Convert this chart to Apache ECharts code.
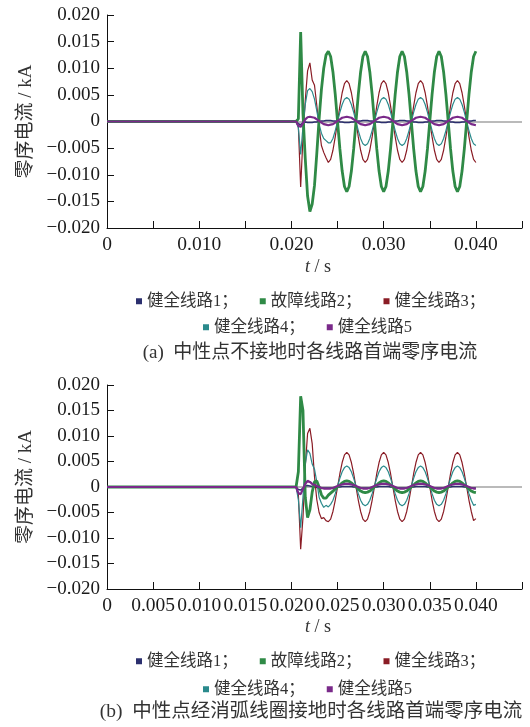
<!DOCTYPE html>
<html>
<head>
<meta charset="utf-8">
<script src="https://cdn.jsdelivr.net/npm/echarts@6/dist/echarts.min.js"></script>
<style>
html,body{margin:0;padding:0;background:#fff;}
#c{width:530px;height:727px;}
</style>
</head>
<body>
<div id="c"></div>
<script>
// time samples (s)
var t = [0, 0.0205, 0.02075, 0.021, 0.02125, 0.0215, 0.02175, 0.022, 0.02225, 0.0225, 0.02275, 0.023, 0.02325, 0.0235, 0.02375,
  0.024, 0.02425, 0.0245, 0.02475, 0.025, 0.02525, 0.0255, 0.02575, 0.026, 0.02625, 0.0265, 0.02675, 0.027, 0.02725, 0.0275, 0.02775,
  0.028, 0.02825, 0.0285, 0.02875, 0.029, 0.02925, 0.0295, 0.02975, 0.030, 0.03025, 0.0305, 0.03075, 0.031, 0.03125, 0.0315, 0.03175,
  0.032, 0.03225, 0.0325, 0.03275, 0.033, 0.03325, 0.0335, 0.03375, 0.034, 0.03425, 0.0345, 0.03475, 0.035, 0.03525, 0.0355, 0.03575,
  0.036, 0.03625, 0.0365, 0.03675, 0.037, 0.03725, 0.0375, 0.03775, 0.038, 0.03825, 0.0385, 0.03875, 0.039, 0.03925, 0.0395, 0.03975,
  0.040];

var seriesNames = ['健全线路1', '故障线路2', '健全线路3', '健全线路4', '健全线路5'];

// (a) 中性点不接地
var line1A = [0, 0, -0.0004, -0.0006, -0.0002, -0.0001, -0.0002, -0.0002, -0.0002, -0.0001, -0.0001, 0, 0.0001, 0.0001, 0.0002,
  0.0002, 0.0002, 0.0001, 0.0001, 0, -0.0001, -0.0001, -0.0002, -0.0002, -0.0002, -0.0001, -0.0001, 0, 0.0001, 0.0001, 0.0002,
  0.0002, 0.0002, 0.0001, 0.0001, 0, -0.0001, -0.0001, -0.0002, -0.0002, -0.0002, -0.0001, -0.0001, 0, 0.0001, 0.0001, 0.0002,
  0.0002, 0.0002, 0.0001, 0.0001, 0, -0.0001, -0.0001, -0.0002, -0.0002, -0.0002, -0.0001, -0.0001, 0, 0.0001, 0.0001, 0.0002,
  0.0002, 0.0002, 0.0001, 0.0001, 0, -0.0001, -0.0001, -0.0002, -0.0002, -0.0002, -0.0001, -0.0001, 0, 0.0001, 0.0001, 0.0002,
  0.0002];
var line2A = [0, 0, 0.0005, 0.0168, 0.0015, -0.0070, -0.0140, -0.0169, -0.0155, -0.0120, -0.0060, 0.0005, 0.0060, 0.0100, 0.0125,
  0.0132, 0.0122, 0.0093, 0.0051, 0, -0.0051, -0.0093, -0.0122, -0.0132, -0.0122, -0.0093, -0.0051, 0, 0.0051, 0.0093, 0.0122,
  0.0132, 0.0122, 0.0093, 0.0051, 0, -0.0051, -0.0093, -0.0122, -0.0132, -0.0122, -0.0093, -0.0051, 0, 0.0051, 0.0093, 0.0122,
  0.0132, 0.0122, 0.0093, 0.0051, 0, -0.0051, -0.0093, -0.0122, -0.0132, -0.0122, -0.0093, -0.0051, 0, 0.0051, 0.0093, 0.0122,
  0.0132, 0.0122, 0.0093, 0.0051, 0, -0.0051, -0.0093, -0.0122, -0.0132, -0.0122, -0.0093, -0.0051, 0, 0.0051, 0.0093, 0.0122,
  0.0132];
var line3A = [0, 0, -0.0010, -0.0123, -0.0030, 0.0040, 0.0095, 0.0110, 0.0078, 0.0068, 0.0030, -0.0010, -0.0045, -0.0058, -0.0068,
  -0.0077, -0.0071, -0.0054, -0.0029, 0, 0.0029, 0.0054, 0.0071, 0.0077, 0.0071, 0.0054, 0.0029, 0, -0.0029, -0.0054, -0.0071,
  -0.0077, -0.0071, -0.0054, -0.0029, 0, 0.0029, 0.0054, 0.0071, 0.0077, 0.0071, 0.0054, 0.0029, 0, -0.0029, -0.0054, -0.0071,
  -0.0077, -0.0071, -0.0054, -0.0029, 0, 0.0029, 0.0054, 0.0071, 0.0077, 0.0071, 0.0054, 0.0029, 0, -0.0029, -0.0054, -0.0071,
  -0.0077, -0.0071, -0.0054, -0.0029, 0, 0.0029, 0.0054, 0.0071, 0.0077, 0.0071, 0.0054, 0.0029, 0, -0.0029, -0.0054, -0.0071,
  -0.0077];
var line4A = [0, 0, -0.0012, -0.0062, -0.0010, 0.0032, 0.0058, 0.0062, 0.0056, 0.0042, 0.0020, -0.0005, -0.0022, -0.0032, -0.0036,
  -0.0040, -0.0040, -0.0032, -0.0017, 0, 0.0017, 0.0032, 0.0042, 0.0045, 0.0042, 0.0032, 0.0017, 0, -0.0017, -0.0032, -0.0042,
  -0.0045, -0.0042, -0.0032, -0.0017, 0, 0.0017, 0.0032, 0.0042, 0.0045, 0.0042, 0.0032, 0.0017, 0, -0.0017, -0.0032, -0.0042,
  -0.0045, -0.0042, -0.0032, -0.0017, 0, 0.0017, 0.0032, 0.0042, 0.0045, 0.0042, 0.0032, 0.0017, 0, -0.0017, -0.0032, -0.0042,
  -0.0045, -0.0042, -0.0032, -0.0017, 0, 0.0017, 0.0032, 0.0042, 0.0045, 0.0042, 0.0032, 0.0017, 0, -0.0017, -0.0032, -0.0042,
  -0.0045];
var line5A = [0, 0, -0.0008, -0.0010, -0.0003, 0.0004, 0.0008, 0.0009, 0.0008, 0.0007, 0.0004, 0.0001, -0.0002, -0.0005, -0.0006,
  -0.0007, -0.0006, -0.0005, -0.0002, 0.0001, 0.0004, 0.0007, 0.0008, 0.0009, 0.0008, 0.0007, 0.0004, 0.0001, -0.0002, -0.0005, -0.0006,
  -0.0007, -0.0006, -0.0005, -0.0002, 0.0001, 0.0004, 0.0007, 0.0008, 0.0009, 0.0008, 0.0007, 0.0004, 0.0001, -0.0002, -0.0005, -0.0006,
  -0.0007, -0.0006, -0.0005, -0.0002, 0.0001, 0.0004, 0.0007, 0.0008, 0.0009, 0.0008, 0.0007, 0.0004, 0.0001, -0.0002, -0.0005, -0.0006,
  -0.0007, -0.0006, -0.0005, -0.0002, 0.0001, 0.0004, 0.0007, 0.0008, 0.0009, 0.0008, 0.0007, 0.0004, 0.0001, -0.0002, -0.0005, -0.0006,
  -0.0007];

// (b) 中性点经消弧线圈接地
var line1B = [0, 0, -0.0005, -0.0006, -0.0002, 0.0002, 0.0003, 0.0002, 0.0001, 0, -0.0001, -0.0002, -0.0002, -0.0002, -0.0002,
  -0.0002, -0.0002, -0.0002, -0.0001, 0, 0, 0.0001, 0.0001, 0.0001, 0.0001, 0.0001, 0, 0, -0.0001, -0.0002, -0.0002,
  -0.0002, -0.0002, -0.0002, -0.0001, 0, 0, 0.0001, 0.0001, 0.0001, 0.0001, 0.0001, 0, 0, -0.0001, -0.0002, -0.0002,
  -0.0002, -0.0002, -0.0002, -0.0001, 0, 0, 0.0001, 0.0001, 0.0001, 0.0001, 0.0001, 0, 0, -0.0001, -0.0002, -0.0002,
  -0.0002, -0.0002, -0.0002, -0.0001, 0, 0, 0.0001, 0.0001, 0.0001, 0.0001, 0.0001, 0, 0, -0.0001, -0.0002, -0.0002,
  -0.0002];
var line2B = [0, 0, 0.0030, 0.0178, 0.0150, -0.0020, -0.0060, -0.0045, -0.0010, 0.0010, 0.0012, 0, -0.0015, -0.0022, -0.0022,
  -0.0016, -0.0012, -0.0008, -0.0004, 0, 0.0004, 0.0008, 0.0011, 0.0012, 0.0011, 0.0008, 0.0004, 0, -0.0004, -0.0008, -0.0010,
  -0.0011, -0.0010, -0.0008, -0.0004, 0, 0.0004, 0.0008, 0.0011, 0.0012, 0.0011, 0.0008, 0.0004, 0, -0.0004, -0.0008, -0.0010,
  -0.0011, -0.0010, -0.0008, -0.0004, 0, 0.0004, 0.0008, 0.0011, 0.0012, 0.0011, 0.0008, 0.0004, 0, -0.0004, -0.0008, -0.0010,
  -0.0011, -0.0010, -0.0008, -0.0004, 0, 0.0004, 0.0008, 0.0011, 0.0012, 0.0011, 0.0008, 0.0004, 0, -0.0004, -0.0008, -0.0010,
  -0.0011];
var line3B = [0, 0, -0.0015, -0.0122, -0.0060, 0.0040, 0.0105, 0.0115, 0.0085, 0.0020, -0.0025, -0.0050, -0.0062, -0.0060, -0.0066,
  -0.0068, -0.0063, -0.0048, -0.0026, 0, 0.0026, 0.0048, 0.0063, 0.0068, 0.0063, 0.0048, 0.0026, 0, -0.0026, -0.0048, -0.0063,
  -0.0068, -0.0063, -0.0048, -0.0026, 0, 0.0026, 0.0048, 0.0063, 0.0068, 0.0063, 0.0048, 0.0026, 0, -0.0026, -0.0048, -0.0063,
  -0.0068, -0.0063, -0.0048, -0.0026, 0, 0.0026, 0.0048, 0.0063, 0.0068, 0.0063, 0.0048, 0.0026, 0, -0.0026, -0.0048, -0.0063,
  -0.0068, -0.0063, -0.0048, -0.0026, 0, 0.0026, 0.0048, 0.0063, 0.0068, 0.0063, 0.0048, 0.0026, 0, -0.0026, -0.0048, -0.0066,
  -0.0062];
var line4B = [0, 0, -0.0025, -0.0080, -0.0020, 0.0045, 0.0073, 0.0066, 0.0045, 0.0035, 0.0010, -0.0020, -0.0032, -0.0040, -0.0036,
  -0.0039, -0.0034, -0.0026, -0.0013, 0.0002, 0.0017, 0.0030, 0.0038, 0.0041, 0.0038, 0.0030, 0.0017, 0.0002, -0.0013, -0.0026, -0.0034,
  -0.0037, -0.0034, -0.0026, -0.0013, 0.0002, 0.0017, 0.0030, 0.0038, 0.0041, 0.0038, 0.0030, 0.0017, 0.0002, -0.0013, -0.0026, -0.0034,
  -0.0037, -0.0034, -0.0026, -0.0013, 0.0002, 0.0017, 0.0030, 0.0038, 0.0041, 0.0038, 0.0030, 0.0017, 0.0002, -0.0013, -0.0026, -0.0034,
  -0.0037, -0.0034, -0.0026, -0.0013, 0.0002, 0.0017, 0.0030, 0.0038, 0.0041, 0.0038, 0.0030, 0.0017, 0.0002, -0.0013, -0.0026, -0.0036,
  -0.0034];
var line5B = [0, 0, -0.0012, -0.0014, -0.0004, 0.0006, 0.0012, 0.0010, 0.0006, 0.0004, 0.0002, 0, -0.0002, -0.0003, -0.0003,
  -0.0003, -0.0003, -0.0002, 0, 0.0002, 0.0004, 0.0005, 0.0006, 0.0006, 0.0006, 0.0005, 0.0004, 0.0002, 0, -0.0002, -0.0003,
  -0.0003, -0.0003, -0.0002, 0, 0.0002, 0.0004, 0.0005, 0.0006, 0.0006, 0.0006, 0.0005, 0.0004, 0.0002, 0, -0.0002, -0.0003,
  -0.0003, -0.0003, -0.0002, 0, 0.0002, 0.0004, 0.0005, 0.0006, 0.0006, 0.0006, 0.0005, 0.0004, 0.0002, 0, -0.0002, -0.0003,
  -0.0003, -0.0003, -0.0002, 0, 0.0002, 0.0004, 0.0005, 0.0006, 0.0006, 0.0006, 0.0005, 0.0004, 0.0002, 0, -0.0002, -0.0003,
  -0.0003];

// tick labels
var xLabelsA = ['0', '', '0.010', '', '0.020', '', '0.030', '', '0.040', ''];
var xLabelsB = ['0', '0.005', '0.010', '0.015', '0.020', '0.025', '0.030', '0.035', '0.040', ''];
var yLabels = ['\u22120.020', '\u22120.015', '\u22120.010', '\u22120.005', '0', '0.005', '0.010', '0.015', '0.020'];

var yName = '零序电流 / kA';
var xName = '{i|t} / s';
var captionA = '(a)  中性点不接地时各线路首端零序电流';
var captionB = '(b)  中性点经消弧线圈接地时各线路首端零序电流';

var colors = ['#2b2f6e', '#2f8a46', '#8a1c25', '#2a8a8c', '#7a2a8a'];
var widths = [1.5, 2.8, 1.2, 1.2, 2.2];
var drawOrder = [0, 2, 3, 1, 4];

var serif = '"Liberation Serif", "Noto Sans CJK SC", serif';
var cjk = '"Liberation Serif", "Noto Sans CJK SC", serif';

function xAxis(gi, labels) {
  return {
    type: 'value', gridIndex: gi, min: 0, max: 0.045, interval: 0.005,
    axisLine: {show: true, onZero: false, lineStyle: {color: '#111', width: 1}},
    axisTick: {show: true, inside: true, length: 7, lineStyle: {color: '#111'}},
    splitLine: {show: false},
    axisLabel: {
      margin: 7, color: '#1a1a1a', fontFamily: serif, fontSize: 19.5,
      formatter: function (v) { var k = Math.round(v / 0.005); return labels[k] || ''; }
    }
  };
}
function yAxis(gi, gap) {
  return {
    type: 'value', gridIndex: gi, min: -0.02, max: 0.02, interval: 0.005,
    name: yName, nameLocation: 'middle', nameRotate: 90, nameGap: gap,
    nameTextStyle: {fontFamily: cjk, fontSize: 19, color: '#333'},
    axisLine: {show: true, lineStyle: {color: '#111', width: 1}},
    axisTick: {show: true, inside: true, length: 7, lineStyle: {color: '#111'}},
    splitLine: {show: false},
    axisLabel: {
      margin: 7, color: '#1a1a1a', fontFamily: serif, fontSize: 19,
      formatter: function (v) { var k = Math.round((v + 0.02) / 0.005); return yLabels[k] || ''; }
    }
  };
}

var dataSets = [[line1A, line2A, line3A, line4A, line5A], [line1B, line2B, line3B, line4B, line5B]];
var series = [];
for (var g = 0; g < 2; g++) {
  drawOrder.forEach(function (si, n) {
    var arr = dataSets[g][si];
    var s = {
      type: 'line', name: seriesNames[si], xAxisIndex: g, yAxisIndex: g,
      data: t.map(function (x, i) { return [x, arr[i]]; }),
      showSymbol: false, symbol: 'none', smooth: false,
      lineStyle: {color: colors[si], width: widths[si]},
      itemStyle: {color: colors[si]},
      z: 3 + n
    };
    if (n === 0) {
      s.markLine = {
        silent: true, symbol: 'none', label: {show: false},
        lineStyle: {color: '#a3a3a3', width: 1.6, type: 'solid'},
        data: [{yAxis: 0}], z: 1
      };
    }
    series.push(s);
  });
}

function legend(names, left, top) {
  return {
    data: names, left: left, top: top, orient: 'horizontal',
    icon: 'rect', itemWidth: 6, itemHeight: 6, itemGap: 22, selectedMode: false,
    textStyle: {fontFamily: cjk, fontSize: 16.5, color: '#333'},
    formatter: function (n) { return n === '健全线路5' ? n : n + '；'; }
  };
}

var titleStyle = function (size) {
  return {fontFamily: cjk, fontSize: size, fontWeight: 'normal', color: '#333',
    rich: {i: {fontFamily: serif, fontSize: size, fontStyle: 'italic', color: '#333'}}};
};

var option = {
  animation: false,
  backgroundColor: '#fff',
  grid: [
    {left: 107, right: 8, top: 15, height: 213, containLabel: false},
    {left: 107, right: 8, top: 385, height: 204, containLabel: false}
  ],
  xAxis: [xAxis(0, xLabelsA), xAxis(1, xLabelsB)],
  yAxis: [yAxis(0, 70), yAxis(1, 70)],
  legend: [
    legend(['健全线路1', '故障线路2', '健全线路3'], 131, 288),
    legend(['健全线路4', '健全线路5'], 198, 314),
    legend(['健全线路1', '故障线路2', '健全线路3'], 131, 648),
    legend(['健全线路4', '健全线路5'], 198, 676)
  ],
  title: [
    {text: xName, left: 318, top: 258, textAlign: 'center', padding: 0, textStyle: titleStyle(18)},
    {text: captionA, left: 310, top: 344, textAlign: 'center', padding: 0, textStyle: titleStyle(19)},
    {text: xName, left: 318, top: 618, textAlign: 'center', padding: 0, textStyle: titleStyle(18)},
    {text: captionB, left: 311, top: 702, textAlign: 'center', padding: 0, textStyle: titleStyle(19.5)}
  ],
  series: series
};

var chart = echarts.init(document.getElementById('c'), null, {renderer: 'canvas'});
chart.setOption(option);
</script>
</body>
</html>
